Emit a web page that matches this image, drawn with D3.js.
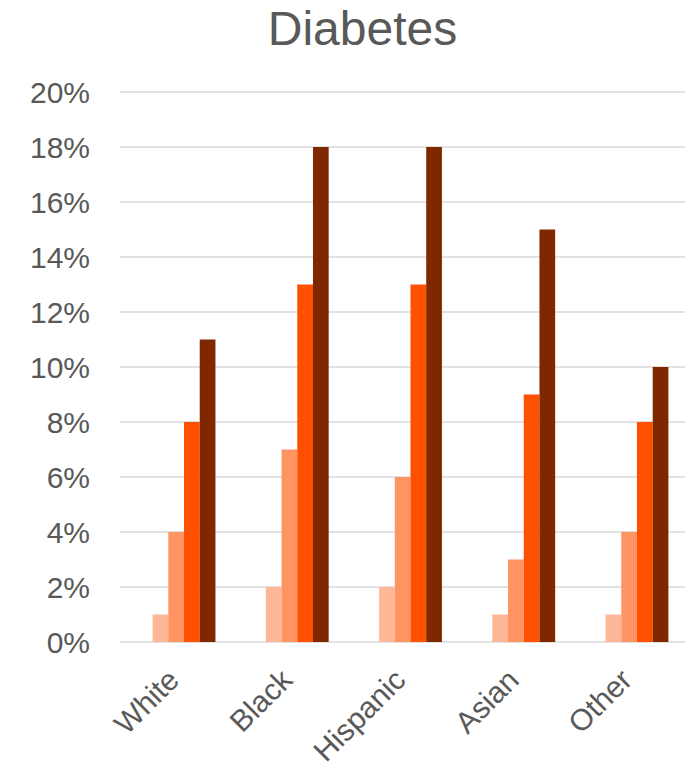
<!DOCTYPE html>
<html>
<head>
<meta charset="utf-8">
<script src="https://cdn.jsdelivr.net/npm/d3@7"></script>
<style>
  html, body { margin: 0; padding: 0; background: #fff; }
  svg { display: block; font-family: "Liberation Sans", Arial, sans-serif; }
</style>
</head>
<body>
<svg id="chart" width="697" height="768"></svg>
<script>
const title = "Diabetes";
const categories = ["White", "Black", "Hispanic", "Asian", "Other"];
const seriesNames = ["S1", "S2", "S3", "S4"];
const s1 = [1, 2, 2, 1, 1];
const s2 = [4, 7, 6, 3, 4];
const s3 = [8, 13, 13, 9, 8];
const s4 = [11, 18, 18, 15, 10];
const yTicks = [0, 2, 4, 6, 8, 10, 12, 14, 16, 18, 20];
const colors = ["#FFB897", "#FF9462", "#FF5000", "#7F2800"];

const series = [s1, s2, s3, s4];
const svg = d3.select("#chart");

const gridLeft = 120, gridRight = 685;
const y = d3.scaleLinear().domain([0, 20]).range([642, 92]);
const x0 = d3.scaleBand().domain(categories).range([127.4, 693.6])
  .paddingInner(0.445).paddingOuter(0.2225);
const x1 = d3.scaleBand().domain(seriesNames).range([0, x0.bandwidth()]).padding(0);

// title
svg.append("text")
  .attr("x", 362.5).attr("y", 45)
  .attr("text-anchor", "middle")
  .attr("font-size", 48)
  .attr("fill", "#595959")
  .text(title);

// gridlines
svg.append("g").selectAll("line").data(yTicks).join("line")
  .attr("x1", gridLeft).attr("x2", gridRight)
  .attr("y1", d => y(d)).attr("y2", d => y(d))
  .attr("stroke", "#D9D9D9").attr("stroke-width", 1.5);

// y labels
svg.append("g").selectAll("text").data(yTicks).join("text")
  .attr("x", 90).attr("y", d => y(d))
  .attr("dy", "0.36em")
  .attr("text-anchor", "end")
  .attr("font-size", 30)
  .attr("fill", "#595959")
  .text(d => d + "%");

// bars
const groups = svg.append("g").selectAll("g").data(categories).join("g")
  .attr("transform", c => `translate(${x0(c)},0)`);
groups.selectAll("rect")
  .data((c, i) => series.map((s, k) => ({ k, v: s[i] })))
  .join("rect")
  .attr("x", d => x1(seriesNames[d.k]))
  .attr("width", x1.bandwidth())
  .attr("y", d => y(d.v))
  .attr("height", d => y(0) - y(d.v))
  .attr("fill", d => colors[d.k]);

// x labels
svg.append("g").selectAll("text").data(categories).join("text")
  .attr("transform", c => `translate(${x0(c) + x0.bandwidth() / 2 - 18},667) rotate(-45)`)
  .attr("text-anchor", "end")
  .attr("dy", "0.7em")
  .attr("font-size", 30)
  .attr("fill", "#595959")
  .text(c => c);
</script>
</body>
</html>
